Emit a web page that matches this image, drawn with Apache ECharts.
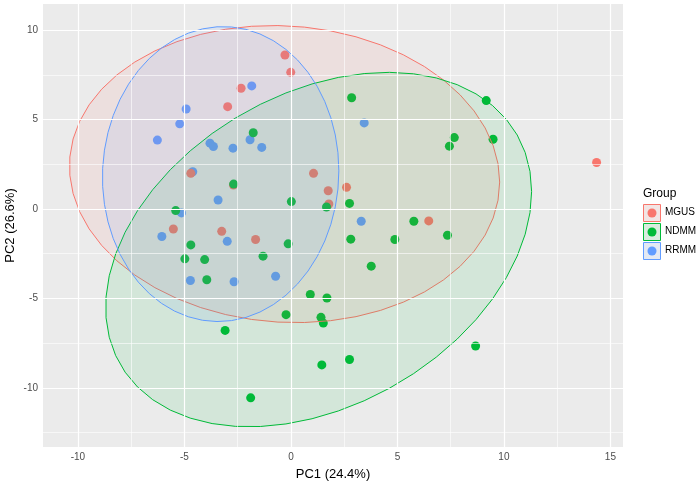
<!DOCTYPE html>
<html><head><meta charset="utf-8">
<script src="https://cdn.jsdelivr.net/npm/echarts@6/dist/echarts.min.js"></script>
<style>html,body{margin:0;padding:0;background:#fff}#c{width:700px;height:484px}</style>
</head><body><div id="c"></div>
<script>
const groups = ['MGUS', 'NDMM', 'RRMM'];
const colors = ['#F8766D', '#00BA38', '#619CFF'];

const mgusPC1 = [-0.28, -0.01, -2.34, -2.97, 1.06, -4.70, -2.70, 1.75, 1.78, -5.52, -3.25, -1.66, 14.35, 2.61, 6.47];
const mgusPC2 = [8.61, 7.64, 6.75, 5.72, 1.99, 1.99, 1.34, 1.02, 0.28, -1.12, -1.25, -1.71, 2.60, 1.21, -0.67];

const ndmmPC1 = [-1.77, -2.69, 1.67, 0.02, -5.41, -4.70, -0.13, 2.85, 9.17, 7.67, 7.44, 9.49, 2.75, 5.77, 7.35, 2.81,
                 4.88, 3.77, 0.91, 1.69, -0.23, 1.41, 1.52, 8.67, 2.75, 1.45, -4.98, -4.05, -1.31, -3.95, -3.09, -1.89];
const ndmmPC2 = [4.26, 1.39, 0.11, 0.41, -0.09, -2.01, -1.95, 6.22, 6.06, 3.99, 3.51, 3.90, 0.31, -0.69, -1.47, -1.69,
                 -1.71, -3.20, -4.78, -4.98, -5.91, -6.06, -6.38, -7.66, -8.42, -8.72, -2.79, -2.83, -2.64, -3.96, -6.79, -10.56];

const rrmmPC1 = [-1.84, -4.92, -5.22, -6.27, -3.80, -3.64, -2.72, -1.92, -1.37, -4.61, -3.42, -5.14, -6.06, -2.99, 3.44, 3.30, -4.72, -2.67, -0.72];
const rrmmPC2 = [6.88, 5.59, 4.76, 3.85, 3.68, 3.49, 3.40, 3.87, 3.44, 2.08, 0.50, -0.22, -1.54, -1.81, 4.81, -0.69, -4.00, -4.07, -3.76];

// 95% ellipse parameters (centre and spread, data units)
const ellipseCenterX = [-0.3, 1.3, -3.3];
const ellipseCenterY = [1.95, -2.27, 1.95];
const ellipseVarX = [102, 100, 30.8];
const ellipseVarY = [69, 98.2, 68];
const ellipseCovXY = [-4.5, 32.4, 1.0];

const xTicks = [-10, -5, 0, 5, 10, 15];
const yTicks = [-10, -5, 0, 5, 10];
const xMinor = [-7.5, -2.5, 2.5, 7.5, 12.5];
const yMinor = [-12.5, -7.5, -2.5, 2.5, 7.5];
const xRange = [-11.64, 15.59];
const yRange = [-13.31, 11.46];

const xTitle = 'PC1 (24.4%)';
const yTitle = 'PC2 (26.6%)';
const legendTitle = 'Group';

function zip(a, b) { return a.map((v, i) => [v, b[i]]); }
function rgba(hex, a) {
  const n = parseInt(hex.slice(1), 16);
  return 'rgba(' + ((n >> 16) & 255) + ',' + ((n >> 8) & 255) + ',' + (n & 255) + ',' + a + ')';
}

const chart = echarts.init(document.getElementById('c'), null, {renderer: 'canvas'});
const FONT = '"Liberation Sans", Arial, Helvetica, sans-serif';

const gridLines = {
  type: 'line', data: [], z: 1, silent: true,
  markLine: {
    silent: true, symbol: ['none', 'none'], animation: false,
    label: {show: false},
    emphasis: {disabled: true},
    data: [
      ...xMinor.map(v => ({xAxis: v, lineStyle: {color: '#FFFFFF', width: 0.6, type: 'solid', opacity: 1}})),
      ...yMinor.map(v => ({yAxis: v, lineStyle: {color: '#FFFFFF', width: 0.6, type: 'solid', opacity: 1}})),
      ...xTicks.map(v => ({xAxis: v, lineStyle: {color: '#FFFFFF', width: 1.2, type: 'solid', opacity: 1}})),
      ...yTicks.map(v => ({yAxis: v, lineStyle: {color: '#FFFFFF', width: 1.2, type: 'solid', opacity: 1}}))
    ]
  }
};

const pointData = [zip(mgusPC1, mgusPC2), zip(ndmmPC1, ndmmPC2), zip(rrmmPC1, rrmmPC2)];
const drawOrder = [2, 0, 1];
const scatterSeries = drawOrder.map(g => ({
  type: 'scatter', name: groups[g], data: pointData[g], z: 2,
  symbol: 'circle', symbolSize: 9,
  itemStyle: {color: colors[g], opacity: 1},
  emphasis: {disabled: true}
}));

const ellipseSeries = {
  type: 'custom', z: 3, silent: true,
  data: groups.map((g, i) => [ellipseCenterX[i], ellipseCenterY[i], i]),
  encode: {x: 0, y: 1},
  renderItem: function (params, api) {
    const i = api.value(2);
    const cx = api.value(0), cy = api.value(1);
    const l11 = Math.sqrt(ellipseVarX[i]);
    const l21 = ellipseCovXY[i] / l11;
    const l22 = Math.sqrt(ellipseVarY[i] - l21 * l21);
    const pts = [];
    const N = 51;
    for (let k = 0; k < N; k++) {
      const t = 2 * Math.PI * k / N;
      const u = Math.cos(t), v = Math.sin(t);
      pts.push(api.coord([cx + l11 * u, cy + l21 * u + l22 * v]));
    }
    return {
      type: 'polygon', shape: {points: pts},
      style: {fill: rgba(colors[i], 0.1), stroke: colors[i], lineWidth: 1}
    };
  }
};

const legendItems = [];
legendItems.push({type: 'text', left: 643, top: 188,
  style: {text: legendTitle, font: '12px ' + FONT, fill: '#000'}});
groups.forEach((g, i) => {
  const y0 = 204 + i * 19;
  legendItems.push({type: 'rect', shape: {x: 643.5, y: y0 + 0.5, width: 17, height: 17},
    style: {fill: '#F2F2F2', stroke: 'none'}});
  legendItems.push({type: 'rect', shape: {x: 643.5, y: y0 + 0.5, width: 17, height: 17},
    style: {fill: rgba(colors[i], 0.1), stroke: colors[i], lineWidth: 1}});
  legendItems.push({type: 'circle', shape: {cx: 652, cy: y0 + 9, r: 4.5},
    style: {fill: colors[i]}});
  legendItems.push({type: 'text', left: 665, top: y0 + 3,
    style: {text: g, font: '10px ' + FONT, fill: '#000'}});
});

chart.setOption({
  animation: false,
  backgroundColor: '#FFFFFF',
  grid: {left: 43, right: 77, top: 4, bottom: 37, show: true, backgroundColor: '#EBEBEB', borderWidth: 0,
         containLabel: false, outerBoundsMode: 'none'},
  xAxis: {
    type: 'value', min: xRange[0], max: xRange[1],
    name: xTitle, nameLocation: 'middle', nameGap: 21, nameMoveOverlap: false,
    nameTextStyle: {fontFamily: FONT, fontSize: 13, color: '#000'},
    axisLine: {show: false},
    axisTick: {show: true, length: 3, customValues: xTicks, lineStyle: {color: '#333333', width: 1}},
    axisLabel: {customValues: xTicks, fontFamily: FONT, fontSize: 10, color: '#4D4D4D', margin: 5},
    splitLine: {show: false}
  },
  yAxis: {
    type: 'value', min: yRange[0], max: yRange[1],
    name: yTitle, nameLocation: 'middle', nameGap: 26, nameRotate: 90, nameMoveOverlap: false,
    nameTextStyle: {fontFamily: FONT, fontSize: 13, color: '#000'},
    axisLine: {show: false},
    axisTick: {show: true, length: 3, customValues: yTicks, lineStyle: {color: '#333333', width: 1}},
    axisLabel: {customValues: yTicks, fontFamily: FONT, fontSize: 10, color: '#4D4D4D', margin: 5},
    splitLine: {show: false}
  },
  graphic: legendItems,
  series: [gridLines, ...scatterSeries, ellipseSeries]
});
</script>
</body></html>
